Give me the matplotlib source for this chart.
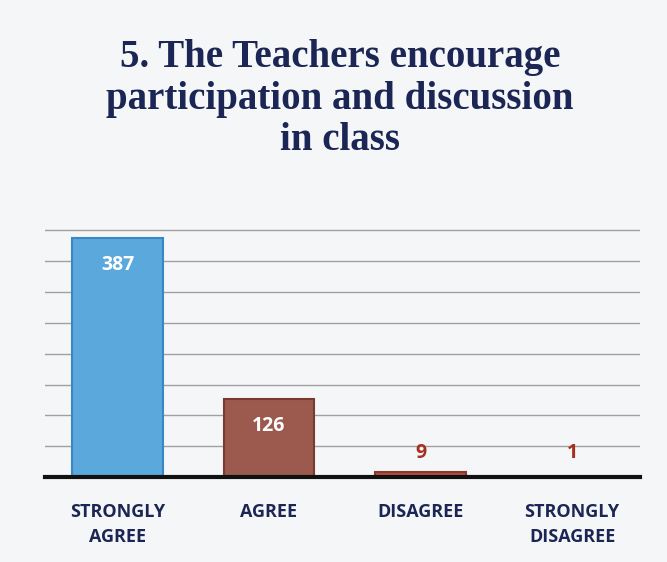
import matplotlib.pyplot as plt
import numpy as np

# survey answers for question 5
categories = ["STRONGLY\nAGREE", "AGREE", "DISAGREE", "STRONGLY\nDISAGREE"]
counts = [387, 126, 9, 1]
bar_colors = ["#5ba8dc", "#9c5a4f", "#b0513f", "#b0513f"]
edge_colors = ["#3b86c4", "#7a3a30", "#8a3a2a", "#8a3a2a"]
label_colors = ["white", "white", "#a5301f", "#a5301f"]

navy = "#1b2655"

fig = plt.figure(figsize=(6.67, 5.62), dpi=100)
fig.patch.set_facecolor("#f5f6f8")
ax = fig.add_axes([0.067, 0.151, 0.893, 0.45])
ax.set_facecolor("#f5f6f8")

x = np.arange(len(categories))
bars = ax.bar(x, counts, width=0.6, color=bar_colors, edgecolor=edge_colors,
              linewidth=1.5, zorder=3)

ax.set_xlim(-0.48, 3.45)
ax.set_ylim(0, 410)
ax.set_yticks(np.arange(50, 401, 50))
ax.yaxis.grid(True, color="#a0a0a0", linewidth=1.0, zorder=0)
ax.tick_params(axis="y", left=False, labelleft=False)
ax.tick_params(axis="x", bottom=False, pad=15)

for s in ["top", "right", "left"]:
    ax.spines[s].set_visible(False)
ax.spines["bottom"].set_linewidth(3)
ax.spines["bottom"].set_color("#111111")
ax.spines["bottom"].set_zorder(4)

ax.set_xticks(x)
ax.set_xticklabels(categories, fontsize=13, fontweight="bold", color=navy,
                   family="Open Sans", linespacing=1.5)

# value labels: inside big bars, above tiny ones
for xi, c, lc in zip(x, counts, label_colors):
    if c > 50:
        ax.text(xi, c - 43, str(c), ha="center", va="center", fontsize=14,
                fontweight="bold", color=lc, family="Open Sans", zorder=5)
    else:
        ax.text(xi, 39, str(c), ha="center", va="center", fontsize=14,
                fontweight="bold", color=lc, family="Open Sans", zorder=5)

fig.text(0.51, 0.93, "5. The Teachers encourage\nparticipation and discussion\nin class",
         ha="center", va="top", fontsize=28, fontweight="bold", color=navy,
         family="Liberation Serif", linespacing=1.15)

fig.savefig("out.png", dpi=100, facecolor=fig.get_facecolor())
